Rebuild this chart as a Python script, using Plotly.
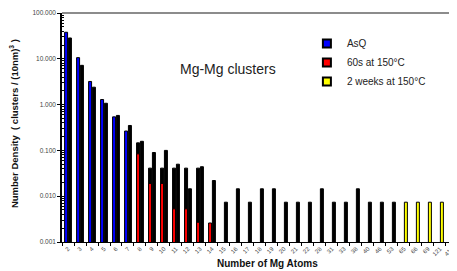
import plotly.graph_objects as go

# ---- data ----
categories = ["2", "3", "4", "5", "6", "7", "8", "9", "10", "11", "12", "13", "14",
              "15", "16", "17", "18", "19", "20", "21", "22", "28", "31", "33", "38",
              "40", "46", "53", "65", "66", "69", "121", "410", "540"]

asq_atoms = ["2", "3", "4", "5", "6", "7"]
asq_density = [38.0, 10.6, 3.2, 1.29, 0.54, 0.265]

s60_atoms = ["8", "9", "10", "11", "12", "13", "14"]
s60_density = [0.084, 0.019, 0.019, 0.0053, 0.0053, 0.0027, 0.0026]

wk2_atoms = ["65", "66", "69", "121", "410"]
wk2_density = [0.0074, 0.0074, 0.0074, 0.0074, 0.0074]

# dark (black) bars drawn without visible fill colour in the original
left_dark_atoms = ["8", "9", "10", "11", "12", "13"]
left_dark_density = [0.146, 0.041, 0.041, 0.041, 0.041, 0.041]

right_dark_atoms = ["2", "3", "4", "5", "6", "7", "8", "9", "10", "11", "12", "13", "14",
                    "15", "16", "17", "18", "19", "20", "21", "22", "28", "31", "33", "38",
                    "40", "46", "53"]
right_dark_density = [28.5, 7.2, 2.4, 1.07, 0.58, 0.35, 0.158, 0.09, 0.10, 0.05, 0.0145,
                      0.044, 0.022, 0.0074, 0.0145, 0.0074, 0.0145, 0.0145, 0.0074, 0.0074,
                      0.0074, 0.0145, 0.0074, 0.0074, 0.0145, 0.0074, 0.0074, 0.0074]

ytick_vals = [0.001, 0.01, 0.1, 1, 10, 100]
ytick_text = ["0.001", "0.010", "0.100", "1.000", "10.000", "100.000"]

BLUE, RED, YELLOW, BLACK = "#0000FF", "#FF0000", "#FFFF00", "#000000"
LEFT_OFF, RIGHT_OFF, BW = -0.285, 0.035, 0.25
EDGE = dict(color=BLACK, width=1)

fig = go.Figure()
fig.add_trace(go.Bar(x=left_dark_atoms, y=left_dark_density, offset=LEFT_OFF, width=BW,
                     marker=dict(color=BLACK, line=EDGE), showlegend=False))
fig.add_trace(go.Bar(x=asq_atoms, y=asq_density, offset=LEFT_OFF, width=BW, name="AsQ",
                     marker=dict(color=BLUE, line=EDGE), showlegend=False))
fig.add_trace(go.Bar(x=s60_atoms, y=s60_density, offset=LEFT_OFF, width=BW, name="60s at 150°C",
                     marker=dict(color=RED, line=EDGE), showlegend=False))
fig.add_trace(go.Bar(x=right_dark_atoms, y=right_dark_density, offset=RIGHT_OFF, width=BW,
                     marker=dict(color=BLACK, line=EDGE), showlegend=False))
fig.add_trace(go.Bar(x=wk2_atoms, y=wk2_density, offset=RIGHT_OFF, width=BW,
                     name="2 weeks at 150°C", marker=dict(color=YELLOW, line=EDGE), showlegend=False))

# legend entries (square markers like the original key)
for name, col in [("AsQ", BLUE), ("60s at 150°C", RED), ("2 weeks at 150°C", YELLOW)]:
    fig.add_trace(go.Scatter(x=[None], y=[None], mode="markers", name=name,
                             marker=dict(symbol="square", size=8, color=col,
                                         line=dict(color=BLACK, width=2))))

# the page body has an 8px default margin: figure is sized/placed to compensate
fig.update_layout(
    width=449, height=263,
    margin=dict(l=54, r=0, t=5, b=29),
    barmode="overlay",
    plot_bgcolor="white", paper_bgcolor="white",
    font=dict(family="Liberation Sans, Arial, sans-serif", color="#222"),
    legend=dict(x=0.62, y=0.93, xanchor="left", yanchor="top",
                bgcolor="rgba(0,0,0,0)", font=dict(size=10, color="#222"),
                itemwidth=30, tracegroupgap=0),
    annotations=[
        dict(text="Mg-Mg clusters", xref="paper", yref="paper", x=0.4203, y=0.757,
             xanchor="center", yanchor="middle", showarrow=False,
             font=dict(size=14, color="#222")),
        dict(text="<b>Number of Mg Atoms</b>", xref="paper", yref="paper", x=0.519, y=-0.095,
             xanchor="center", yanchor="middle", showarrow=False,
             font=dict(size=10, color="#111")),
        dict(text="<b>Number Density  ( clusters / (10nm)<sup>3</sup> )</b>", xref="paper",
             yref="paper", x=-0.1215, y=0.515, xanchor="center", yanchor="middle",
             textangle=-90, showarrow=False, font=dict(size=9.5, color="#111")),
    ],
    shapes=[dict(type="line", xref="paper", yref="paper", x0=0, x1=1, y0=1, y1=1,
                 line=dict(color="#8c8c8c", width=2))],
)

fig.update_xaxes(
    type="category", categoryorder="array", categoryarray=categories,
    range=[-0.5, 32.42], showline=True, linecolor=BLACK, linewidth=1,
    ticks="outside", tickson="boundaries", ticklen=3, tickcolor=BLACK,
    tickangle=-45, tickfont=dict(size=6, color="#444"), ticklabeloverflow="allow",
    showgrid=False, zeroline=False, automargin=False,
)
fig.update_yaxes(
    type="log", range=[-3, 2], tickvals=ytick_vals, ticktext=ytick_text,
    showline=True, linecolor=BLACK, linewidth=1.5,
    ticks="outside", ticklen=3, tickcolor=BLACK,
    tickfont=dict(size=6.5, color="#444"), ticklabeloverflow="allow",
    minor=dict(dtick="D1", ticks="inside", ticklen=2, tickcolor=BLACK, showgrid=False),
    showgrid=False, zeroline=False, automargin=False,
)

fig.write_html("out.html")
